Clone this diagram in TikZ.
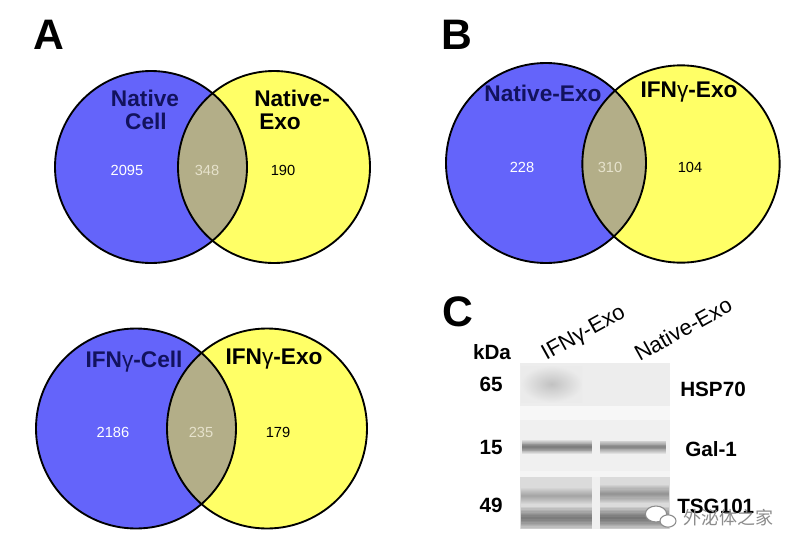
\documentclass[tikz,border=0pt]{standalone}
\usepackage{fontspec}
\setmainfont{Liberation Sans}
\newfontfamily\cjk{Noto Sans CJK SC}
\definecolor{vblue}{HTML}{6464FA}
\definecolor{vyellow}{HTML}{FFFF66}
\definecolor{vlens}{HTML}{B3AE88}
\definecolor{navy}{HTML}{12125E}
\definecolor{lensnum}{HTML}{E6E2CC}
\tikzset{
  outline/.style={draw=black,line width=1.4pt},
  biglabel/.style={inner sep=0pt,font=\fontsize{17}{19}\selectfont\bfseries},
  num/.style={inner sep=0pt,font=\fontsize{11}{12}\selectfont},
  panel/.style={inner sep=0pt,font=\fontsize{32}{34}\selectfont\bfseries},
  blotlabel/.style={inner sep=0pt,font=\fontsize{15.5}{17}\selectfont\bfseries},
  lanelabel/.style={inner sep=0pt,rotate=29,font=\fontsize{16.5}{18}\selectfont},
}
\newcommand{\gam}{{\mdseries γ}}
% blurred band: x1, x2, y centre, half height, layer opacity
\newcommand{\blotband}[5]{%
  \foreach \k in {1,...,8}{%
    \fill[black,opacity=#5] (#1,{#3-#4*\k/8}) rectangle (#2,{#3+#4*\k/8});
  }%
}
\begin{document}
\begin{tikzpicture}[x=0.75pt,y=-0.75pt]
\useasboundingbox[fill=white] (0,0) rectangle (808,554);

% ---------- Panel letters ----------
\node[panel] (lA) at (49,35) {A};
\node[panel] (lB) at (457,35) {B};
\node[panel] (lC) at (458,312) {C};

% ---------- Venn A top ----------
\fill[vblue] (151,167) circle[radius=72pt];
\fill[vyellow] (274,167) circle[radius=72pt];
\begin{scope}
  \clip (151,167) circle[radius=72pt];
  \fill[vlens] (274,167) circle[radius=72pt];
\end{scope}
\draw[outline] (151,167) circle[radius=72pt];
\draw[outline] (274,167) circle[radius=72pt];
\node[biglabel,text=navy] (a1) at (145,98) {Native};
\node[biglabel,text=navy] (a2) at (146,121) {Cell};
\node[biglabel,anchor=west] (a3) at (254,98) {Native-};
\node[biglabel,anchor=west] (a4) at (259,122) {Exo};
\node[num,text=white] (n1) at (127,170) {2095};
\node[num,text=lensnum] (n2) at (207,170) {348};
\node[num] (n3) at (283,170) {190};

% ---------- Venn A bottom ----------
\fill[vblue] (136,428.5) circle[radius=75pt];
\fill[vyellow] (267,428.5) circle[radius=75pt];
\begin{scope}
  \clip (136,428.5) circle[radius=75pt];
  \fill[vlens] (267,428.5) circle[radius=75pt];
\end{scope}
\draw[outline] (136,428.5) circle[radius=75pt];
\draw[outline] (267,428.5) circle[radius=75pt];
\node[biglabel,text=navy] (b1) at (134,362) {IFN\gam-Cell};
\node[biglabel] (b2) at (274,359) {IFN\gam-Exo};
\node[num,text=white] (n4) at (113,432) {2186};
\node[num,text=lensnum] (n5) at (201,432) {235};
\node[num] (n6) at (278,432) {179};

% ---------- Venn B ----------
\fill[vblue] (546,163) circle[radius=75pt];
\fill[vyellow] (681,164) circle[radius=74pt];
\begin{scope}
  \clip (546,163) circle[radius=75pt];
  \fill[vlens] (681,164) circle[radius=74pt];
\end{scope}
\draw[outline] (546,163) circle[radius=75pt];
\draw[outline] (681,164) circle[radius=74pt];
\node[biglabel,text=navy] (c1) at (543,93) {Native-Exo};
\node[biglabel] (c2) at (689,92) {IFN\gam-Exo};
\node[num,text=white] (n7) at (522,167) {228};
\node[num,text=lensnum] (n8) at (610,167) {310};
\node[num] (n9) at (690,167) {104};

% ---------- Panel C: blot ----------
% HSP70 section
\fill[black!7] (520,363) rectangle (670,406);
\shade[inner color=black!24,outer color=black!8] (521,366) rectangle (582,402);
% gap
\fill[black!3] (520,406) rectangle (670,420);
% Gal-1 section
\fill[black!6] (520,420) rectangle (670,471);
\blotband{522}{592}{447}{7}{0.075}
\blotband{600}{666}{447}{6.5}{0.065}
% gap
\fill[black!4] (520,471) rectangle (670,477);
% TSG101 section
\fill[black!14] (520,477) rectangle (670,529);
\blotband{521}{592}{496}{8}{0.03}
\blotband{600}{669}{494}{9}{0.045}
\blotband{521}{592}{518}{11}{0.065}
\blotband{600}{669}{518}{11}{0.07}
\fill[black!6] (592,477) rectangle (600,529);

% blot labels
\node[blotlabel] (kda) at (492,352) {kDa};
\node[blotlabel] (m65) at (491,384) {65};
\node[blotlabel] (m15) at (491,447) {15};
\node[blotlabel] (m49) at (491,505) {49};
\node[blotlabel,anchor=west] (hsp) at (680,389) {HSP70};
\node[blotlabel,anchor=west] (gal) at (685,449) {Gal-1};
\node[blotlabel,anchor=west] (tsg) at (677,506) {TSG101};
\node[lanelabel] (ln1) at (584,334) {IFN\gam-Exo};
\node[lanelabel] (ln2) at (683,329) {Native-Exo};

% watermark
\draw[black!45,line width=0.8pt,fill=white] (656,514) ellipse[x radius=8pt,y radius=6pt];
\draw[black!45,line width=0.8pt,fill=white] (668,521) ellipse[x radius=6pt,y radius=4.6pt];
\node[inner sep=0pt,text=black!45,font=\cjk\fontsize{13.5}{15}\selectfont] (wm) at (728,518) {外泌体之家};
\end{tikzpicture}
\end{document}
